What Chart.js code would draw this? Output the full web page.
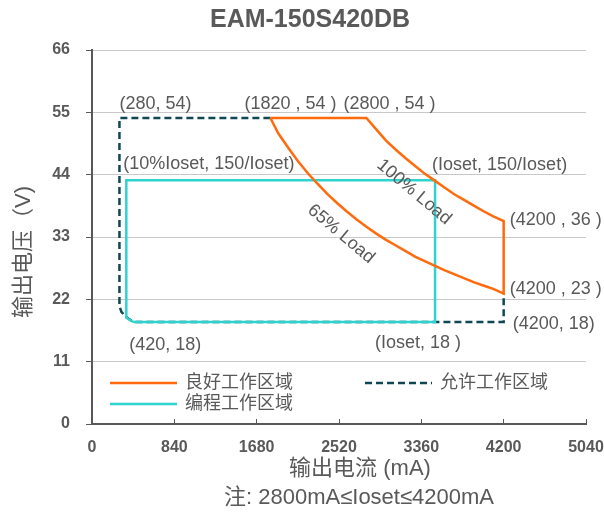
<!DOCTYPE html>
<html>
<head>
<meta charset="utf-8">
<script src="https://cdn.jsdelivr.net/npm/chart.js@4.4.1/dist/chart.umd.min.js"></script>
<style>
  html, body { margin: 0; padding: 0; background: #fff; }
  #wrap { width: 604px; height: 515px; }
</style>
</head>
<body>
<div id="wrap"><canvas id="c"></canvas></div>
<script>
// 刻度
const xTickValues = [0, 840, 1680, 2520, 3360, 4200, 5040];
const yTickValues = [0, 11, 22, 33, 44, 55, 66];

// 良好工作区域 (100% Load -> 65% Load)
const goodI = [1820, 2800, 2900, 3000, 3100, 3200, 3300, 3400, 3500, 3600, 3700, 3800, 3900, 4000, 4100, 4200,
               4200, 4100, 4000, 3900, 3800, 3700, 3600, 3500, 3400, 3300, 3200, 3100, 3000, 2900, 2800, 2700, 2600, 2500, 2400, 2300, 2200, 2100, 2000, 1900, 1820];
const goodV = [54, 54, 52, 50, 48.4, 46.9, 45.5, 44.1, 42.9, 41.7, 40.5, 39.5, 38.5, 37.5, 36.6, 35.8,
               23, 23.8, 24.4, 25, 25.7, 26.4, 27.1, 27.9, 28.7, 29.5, 30.5, 31.5, 32.5, 33.6, 34.8, 36.1, 37.5, 39, 40.6, 42.4, 44.3, 46.4, 48.8, 51.3, 54];

// 允许工作区域
const allowI = [1820, 280, 280, 300, 340, 420, 4200, 4200];
const allowV = [54, 54, 20.8, 19.8, 19, 18, 18, 23];

// 编程工作区域
const progI = [420, 350, 350, 3500, 3500, 420];
const progV = [18, 18.8, 43, 43, 18, 18];

// 标注
const noteTexts = ['(280, 54)', '(1820 , 54 )', '(2800 , 54 )', '(10%Ioset, 150/Ioset)', '(Ioset, 150/Ioset)',
                   '(4200 , 36 )', '(4200 , 23 )', '(4200, 18)', '(420, 18)', '(Ioset, 18 )'];
const noteI = [280, 1820, 2800, 350, 3500, 4200, 4200, 4200, 420, 3500];
const noteV = [54, 54, 54, 43, 43, 36, 23, 18, 18, 18];
const noteOffset = [[0, -14], [-26, -14], [-23, -14], [-3, -16], [-3, -15], [6, 0], [6, -5], [9, 2], [-4, 23], [-60, 21]];

const FONT = '"Liberation Sans", "Noto Sans CJK SC", sans-serif';
const GRAY = '#595959';
const ORANGE = '#FF6A0D';
const CYAN = '#2ED3CF';
const DARK = '#0F4752';

const toPts = (xs, ys) => xs.map((x, i) => ({ x: x, y: ys[i] }));

const extras = {
  id: 'extras',
  afterDatasetsDraw(chart) {
    const ctx = chart.ctx;
    const xs = chart.scales.x, ys = chart.scales.y;
    ctx.save();
    ctx.fillStyle = GRAY;
    ctx.font = '18px ' + FONT;
    ctx.textBaseline = 'middle';
    ctx.textAlign = 'left';
    noteTexts.forEach((t, i) => {
      const px = xs.getPixelForValue(noteI[i]) + noteOffset[i][0];
      const py = ys.getPixelForValue(noteV[i]) + noteOffset[i][1];
      ctx.fillText(t, px, py);
    });
    // 负载曲线文字
    ctx.textAlign = 'center';
    [['100% Load', 414, 192], ['65% Load', 341, 234]].forEach(([t, x, y]) => {
      ctx.save();
      ctx.translate(x, y);
      ctx.rotate(40 * Math.PI / 180);
      ctx.fillText(t, 0, 0);
      ctx.restore();
    });
    ctx.restore();
  },
  afterDraw(chart) {
    const ctx = chart.ctx;
    ctx.save();
    ctx.fillStyle = GRAY;
    ctx.textBaseline = 'middle';
    ctx.textAlign = 'center';
    ctx.font = 'bold 25px ' + FONT;
    ctx.fillText('EAM-150S420DB', 310, 20);

    ctx.font = '22px ' + FONT;
    ctx.fillText('输出电流 (mA)', 360, 469);
    ctx.font = '22px ' + FONT;
    ctx.fillText('注: 2800mA≤Ioset≤4200mA', 359, 498);

    ctx.save();
    ctx.translate(24, 252);
    ctx.rotate(-Math.PI / 2);
    ctx.font = '22px ' + FONT;
    ctx.fillText('输出电压（V)', 0, 0);
    ctx.restore();

    // 图例
    const items = [[0, 110, 383], [2, 110, 404], [1, 365, 383]];
    ctx.textAlign = 'left';
    ctx.font = '18px ' + FONT;
    items.forEach(([di, x, y]) => {
      const ds = chart.data.datasets[di];
      ctx.beginPath();
      ctx.strokeStyle = ds.borderColor;
      ctx.lineWidth = ds.borderWidth;
      ctx.setLineDash(ds.borderDash || []);
      ctx.moveTo(x, y);
      ctx.lineTo(x + 67, y);
      ctx.stroke();
      ctx.setLineDash([]);
      ctx.fillText(ds.label, x + 75, y);
    });
    ctx.restore();
  }
};

new Chart(document.getElementById('c'), {
  type: 'scatter',
  data: {
    datasets: [
      {
        label: '良好工作区域',
        data: toPts(goodI, goodV),
        showLine: true,
        borderColor: ORANGE,
        borderWidth: 2.5,
        pointRadius: 0,
        order: 1
      },
      {
        label: '允许工作区域',
        data: toPts(allowI, allowV),
        showLine: true,
        borderColor: DARK,
        borderWidth: 2.5,
        borderDash: [7, 4],
        pointRadius: 0,
        order: 3
      },
      {
        label: '编程工作区域',
        data: toPts(progI, progV),
        showLine: true,
        borderColor: CYAN,
        borderWidth: 2.5,
        pointRadius: 0,
        order: 2
      }
    ]
  },
  options: {
    responsive: true,
    maintainAspectRatio: false,
    animation: false,
    layout: { padding: { top: 50, right: 18, left: 0, bottom: 0 } },
    plugins: {
      legend: { display: false },
      tooltip: { enabled: false }
    },
    scales: {
      x: {
        type: 'linear',
        min: 0,
        max: 5040,
        afterBuildTicks: s => { s.ticks = xTickValues.map(v => ({ value: v })); },
        afterFit: s => { s.height = 91; s.paddingLeft = 0; s.paddingRight = 0; },
        grid: { drawOnChartArea: false, drawTicks: true, tickLength: -5, tickColor: GRAY, tickWidth: 1 },
        border: { color: GRAY, width: 2 },
        ticks: { color: GRAY, font: { family: FONT, size: 16, weight: 'bold' }, padding: 19, maxRotation: 0, callback: v => String(v) }
      },
      y: {
        type: 'linear',
        min: 0,
        max: 66,
        afterBuildTicks: s => { s.ticks = yTickValues.map(v => ({ value: v })); },
        afterFit: s => { s.width = 92; },
        grid: { color: '#C8C8C8', lineWidth: 1, drawTicks: true, tickLength: 6, tickColor: GRAY },
        border: { color: GRAY, width: 2 },
        ticks: { color: GRAY, font: { family: FONT, size: 16, weight: 'bold' }, padding: 16, callback: v => String(v) }
      }
    }
  },
  plugins: [extras]
});
</script>
</body>
</html>
